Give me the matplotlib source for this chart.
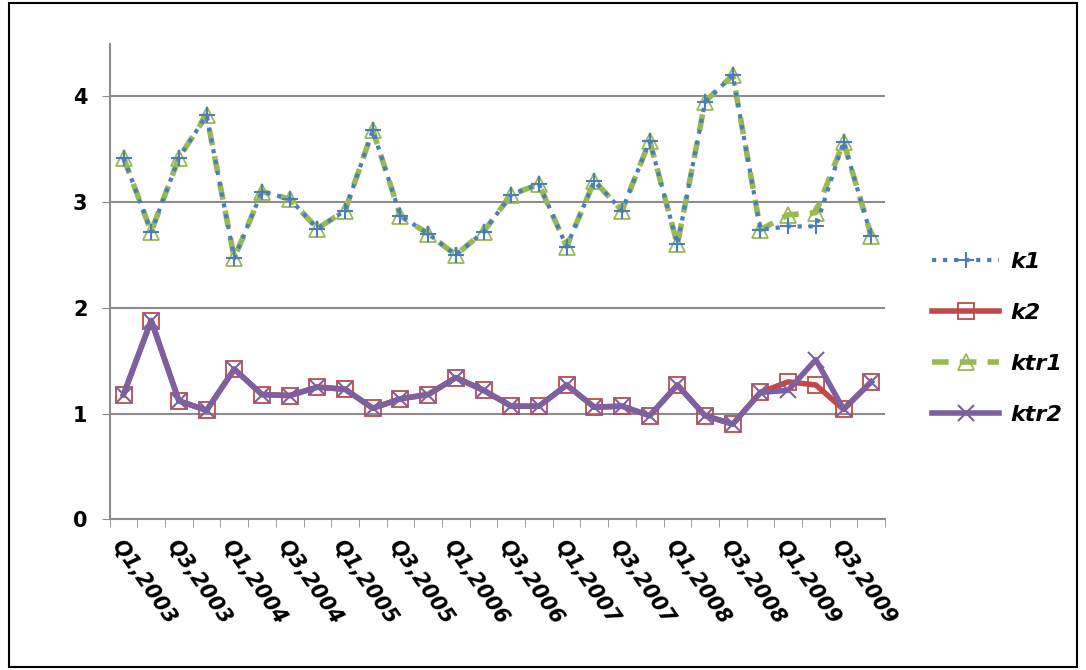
import numpy as np
from matplotlib import pyplot as plt

quarters = [f"Q{q},{y}" for y in range(2003, 2010) for q in range(1, 5)]
k1 = [3.42, 2.72, 3.42, 3.82, 2.47, 3.10, 3.03, 2.75, 2.92, 3.68, 2.87, 2.70, 2.50, 2.72,
      3.07, 3.17, 2.58, 3.20, 2.92, 3.58, 2.60, 3.95, 4.20, 2.74, 2.77, 2.77, 3.57, 2.68]
ktr1 = [3.42, 2.72, 3.42, 3.82, 2.47, 3.10, 3.03, 2.75, 2.92, 3.68, 2.87, 2.70, 2.50, 2.72,
        3.07, 3.17, 2.58, 3.20, 2.92, 3.58, 2.60, 3.95, 4.20, 2.74, 2.88, 2.90, 3.57, 2.68]
k2 = [1.18, 1.88, 1.12, 1.03, 1.42, 1.18, 1.17, 1.25, 1.23, 1.05, 1.14, 1.18, 1.34, 1.22,
      1.07, 1.07, 1.27, 1.06, 1.07, 0.98, 1.27, 0.98, 0.90, 1.20, 1.30, 1.27, 1.04, 1.30]
ktr2 = [1.18, 1.88, 1.12, 1.03, 1.42, 1.18, 1.17, 1.25, 1.23, 1.05, 1.14, 1.18, 1.34, 1.22,
        1.07, 1.07, 1.27, 1.06, 1.07, 0.98, 1.27, 0.98, 0.90, 1.20, 1.22, 1.51, 1.04, 1.30]

x = np.arange(len(quarters))
fig = plt.figure(figsize=(10.86, 6.7), dpi=100)
ax = fig.add_axes([0.101, 0.225, 0.714, 0.71])

ax.plot(x, k1, color='#4a7ebb', linestyle=':', linewidth=3, marker='+', markersize=11,
        markeredgewidth=1.5, label='k1', zorder=3)
ax.plot(x, k2, color='#be4b48', linestyle='-', linewidth=4, marker='s', markersize=12,
        markerfacecolor='none', markeredgewidth=1.3, label='k2', zorder=2)
ax.plot(x, ktr1, color='#98b954', linestyle=(0, (3, 2)), linewidth=4, marker='^', markersize=12,
        markerfacecolor='none', markeredgewidth=1.3, label='ktr1', zorder=2)
ax.plot(x, ktr2, color='#7d60a0', linestyle='-', linewidth=4, marker='x', markersize=11,
        markeredgewidth=1.5, label='ktr2', zorder=3)

ax.set_xlim(-0.5, len(quarters) - 0.5)
ax.set_ylim(0, 4.5)
ax.set_yticks([0, 1, 2, 3, 4])
ax.yaxis.grid(True, color='#8c8c8c', linewidth=1.5)
ax.set_axisbelow(True)
ax.set_xticks(x[::2])
ax.set_xticklabels(quarters[::2], rotation=-55, ha='left', rotation_mode='anchor',
                   fontsize=15, fontweight='bold', fontstyle='italic')
ax.set_xticks(np.arange(-0.5, len(quarters), 1), minor=True)
ax.tick_params(axis='x', which='major', length=0, pad=12)
ax.tick_params(axis='x', which='minor', length=6, color='#8c8c8c')
ax.tick_params(axis='y', labelsize=15, length=6, color='#8c8c8c', pad=10)
for lbl in ax.get_yticklabels():
    lbl.set_fontweight('bold')
for side in ['top', 'right']:
    ax.spines[side].set_visible(False)
for side in ['left', 'bottom']:
    ax.spines[side].set_color('#8c8c8c')
    ax.spines[side].set_linewidth(1.5)

leg = ax.legend(loc='center left', bbox_to_anchor=(1.035, 0.38), frameon=False,
                handlelength=3.0, handletextpad=0.5, labelspacing=1.4,
                prop={'size': 16, 'weight': 'bold', 'style': 'italic'})

fig.patches.append(plt.Rectangle((0.008, 0.005), 0.984, 0.99, transform=fig.transFigure,
                                 fill=False, edgecolor='black', linewidth=1.5))
fig.savefig('out.png', dpi=100)
